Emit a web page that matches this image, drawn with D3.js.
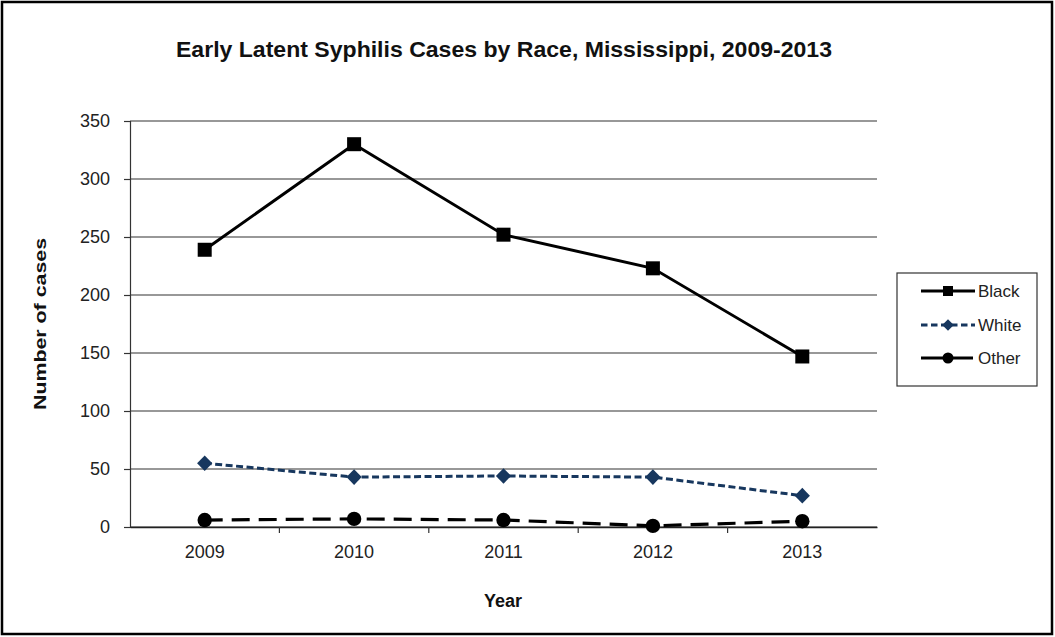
<!DOCTYPE html>
<html><head><meta charset="utf-8">
<script src="https://cdn.jsdelivr.net/npm/d3@7"></script>
<style>
body{margin:0;background:#fff;}
svg{display:block;font-family:"Liberation Sans",Arial,sans-serif;}
</style></head>
<body><svg id="c" width="1055" height="637"></svg>
<script>
const years = ["2009","2010","2011","2012","2013"];
const black = [239, 330, 252, 223, 147];
const white = [55, 43, 44, 43, 27];
const other = [6, 7, 6, 1, 5];
const yTicks = [0,50,100,150,200,250,300,350];
const seriesNames = ["Black","White","Other"];

const svg = d3.select("#c");
svg.append("rect").attr("x",2).attr("y",2).attr("width",1050).attr("height",632)
  .attr("fill","#fff").attr("stroke","#000").attr("stroke-width",2.5);

const L=130, R=877, T=121, B=527;
const x = d3.scaleBand().domain(years).range([L,R]);
const y = d3.scaleLinear().domain([0,350]).range([B,T]);

// gridlines
svg.append("g").selectAll("line").data(yTicks).join("line")
  .attr("x1",L).attr("x2",R).attr("y1",d=>y(d)).attr("y2",d=>y(d))
  .attr("stroke","#333").attr("stroke-width",1.2);

// y axis
const ya = svg.append("g").attr("transform",`translate(${L},0)`)
  .call(d3.axisLeft(y).tickValues(yTicks).tickSize(6).tickPadding(14));
ya.select(".domain").attr("stroke","#333").attr("stroke-width",1.2);
ya.selectAll(".tick line").attr("stroke","#333").attr("stroke-width",1.2);
ya.selectAll("text").attr("font-size",18).attr("fill","#222");

// x axis
const xa = svg.append("g").attr("transform",`translate(0,${B})`)
  .call(d3.axisBottom(x).tickSize(0).tickPadding(18));
xa.select(".domain").attr("stroke","#222").attr("stroke-width",1.5);
xa.selectAll("text").attr("font-size",18).attr("fill","#222");
// boundary ticks
const bounds = years.slice(1).map(d=>x(d));
svg.append("g").selectAll("line").data(bounds).join("line")
  .attr("x1",d=>d).attr("x2",d=>d).attr("y1",B).attr("y2",B+6)
  .attr("stroke","#333").attr("stroke-width",1.2);

const cx = d=>x(d)+x.bandwidth()/2;
const line = d3.line().x((d,i)=>cx(years[i])).y(d=>y(d));

// Other
svg.append("path").datum(other).attr("d",line).attr("fill","none")
  .attr("stroke","#000").attr("stroke-width",3.2).attr("stroke-dasharray","18,9");
svg.append("g").selectAll("circle").data(other).join("circle")
  .attr("cx",(d,i)=>cx(years[i])).attr("cy",d=>y(d)).attr("r",7.2).attr("fill","#000");

// White
svg.append("path").datum(white).attr("d",line).attr("fill","none")
  .attr("stroke","#17375E").attr("stroke-width",3).attr("stroke-dasharray","7,3.5");
svg.append("g").selectAll("path").data(white).join("path")
  .attr("d",d3.symbol(d3.symbolDiamond,110)())
  .attr("transform",(d,i)=>`translate(${cx(years[i])},${y(d)}) scale(1.35,0.8)`)
  .attr("fill","#17375E");

// Black
svg.append("path").datum(black).attr("d",line).attr("fill","none")
  .attr("stroke","#000").attr("stroke-width",3);
svg.append("g").selectAll("rect").data(black).join("rect")
  .attr("x",(d,i)=>cx(years[i])-7).attr("y",d=>y(d)-7).attr("width",14).attr("height",14).attr("fill","#000");

// Title
svg.append("text").attr("x",504).attr("y",57).attr("text-anchor","middle")
  .attr("font-size",22).attr("font-weight","bold").attr("fill","#111")
  .attr("textLength",656).attr("lengthAdjust","spacingAndGlyphs")
  .text("Early Latent Syphilis Cases by Race, Mississippi, 2009-2013");

// axis titles
svg.append("text").attr("transform","translate(46,324) rotate(-90)").attr("text-anchor","middle")
  .attr("font-size",17).attr("font-weight","bold").attr("fill","#111")
  .attr("textLength",172).attr("lengthAdjust","spacingAndGlyphs").text("Number of cases");
svg.append("text").attr("x",503).attr("y",607).attr("text-anchor","middle")
  .attr("font-size",18).attr("font-weight","bold").attr("fill","#111").text("Year");

// Legend
const lg = svg.append("g");
lg.append("rect").attr("x",897).attr("y",273).attr("width",140).attr("height",113)
  .attr("fill","#fff").attr("stroke","#333").attr("stroke-width",1.2);
const ly = [291,325,358];
// Black
lg.append("line").attr("x1",921).attr("x2",975).attr("y1",ly[0]).attr("y2",ly[0]).attr("stroke","#000").attr("stroke-width",3);
lg.append("rect").attr("x",943).attr("y",ly[0]-5).attr("width",10).attr("height",10).attr("fill","#000");
// White
lg.append("line").attr("x1",921).attr("x2",975).attr("y1",ly[1]).attr("y2",ly[1]).attr("stroke","#17375E").attr("stroke-width",3).attr("stroke-dasharray","6.5,3.5");
lg.append("path").attr("d",d3.symbol(d3.symbolDiamond,80)()).attr("transform",`translate(948,${ly[1]}) scale(1.2,0.7)`).attr("fill","#17375E");
// Other
lg.append("line").attr("x1",921).attr("x2",975).attr("y1",ly[2]).attr("y2",ly[2]).attr("stroke","#000").attr("stroke-width",3).attr("stroke-dasharray","22,8");
lg.append("circle").attr("cx",948).attr("cy",ly[2]).attr("r",5.5).attr("fill","#000");
lg.selectAll("text.lt").data(seriesNames).join("text").attr("class","lt")
  .attr("x",978).attr("y",(d,i)=>ly[i]+6).attr("font-size",17).attr("fill","#222").text(d=>d);
</script></body></html>
